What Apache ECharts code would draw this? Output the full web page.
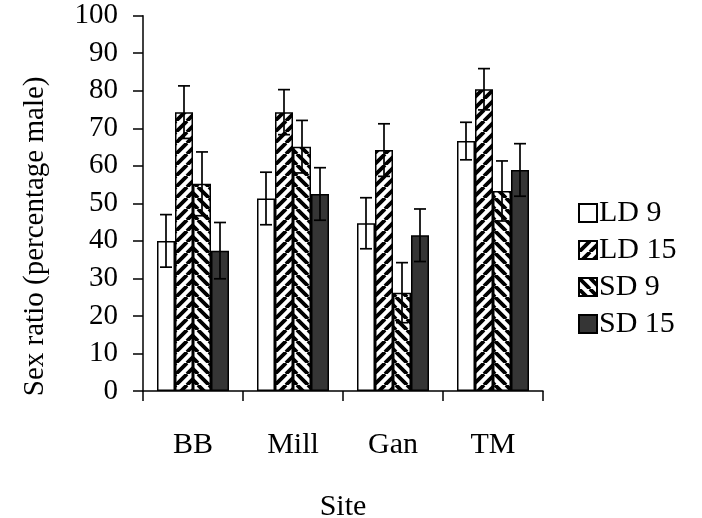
<!DOCTYPE html>
<html>
<head>
<meta charset="utf-8">
<script src="https://cdn.jsdelivr.net/npm/echarts@6/dist/echarts.min.js"></script>
<style>html,body{margin:0;padding:0;background:#fff}#c{width:702px;height:518px}</style>
</head>
<body>
<div id="c"></div>
<script>
var categories = ['BB', 'Mill', 'Gan', 'TM'];
var seriesNames = ['LD 9', 'LD 15', 'SD 9', 'SD 15'];
var ld9 = [40, 51.3, 44.7, 66.6];
var ld15 = [74.3, 74.3, 64.2, 80.4];
var sd9 = [55.2, 65.1, 26.2, 53.3];
var sd15 = [37.4, 52.5, 41.5, 58.9];
var ld9Err = [7, 7, 6.8, 5];
var ld15Err = [7, 6, 7, 5.5];
var sd9Err = [8.5, 7, 8, 8];
var sd15Err = [7.5, 7, 7, 7];
var yTicks = [0, 10, 20, 30, 40, 50, 60, 70, 80, 90, 100];

var FONT = 'Liberation Serif';

function hatch(dir) {
  var s = 11;
  var c = document.createElement('canvas');
  c.width = s; c.height = s;
  var g = c.getContext('2d');
  g.fillStyle = '#fff';
  g.fillRect(0, 0, s, s);
  g.strokeStyle = '#000';
  g.lineWidth = 3.8;
  g.beginPath();
  if (dir > 0) {
    for (var k = -1; k <= 1; k++) {
      g.moveTo(k * s, s); g.lineTo(k * s + s, 0);
    }
  } else {
    for (var k = -1; k <= 1; k++) {
      g.moveTo(k * s, 0); g.lineTo(k * s + s, s);
    }
  }
  g.stroke();
  return c;
}

var fills = [
  '#ffffff',
  { image: hatch(1), repeat: 'repeat' },
  { image: hatch(-1), repeat: 'repeat' },
  '#353535'
];
var values = [ld9, ld15, sd9, sd15];
var errs = [ld9Err, ld15Err, sd9Err, sd15Err];

var series = values.map(function (v, i) {
  return {
    name: seriesNames[i],
    type: 'bar',
    data: v,
    barWidth: '18%',
    barGap: '0%',
    itemStyle: { color: fills[i], borderColor: '#000', borderWidth: 1.5 },
    emphasis: { disabled: true },
    animation: false
  };
});

var errData = [];
values.forEach(function (v, si) {
  v.forEach(function (val, ci) {
    errData.push([ci, si, val, errs[si][ci]]);
  });
});

series.push({
  type: 'custom',
  data: errData,
  encode: { x: 0, y: 2 },
  z: 5,
  animation: false,
  silent: true,
  renderItem: function (params, api) {
    var ci = api.value(0), si = api.value(1), val = api.value(2), e = api.value(3);
    var band = api.size([1, 0])[0];
    var bw = band * 0.18;
    var x = api.coord([ci, 0])[0] + (si - 1.5) * bw;
    var yt = api.coord([ci, val + e])[1];
    var yb = api.coord([ci, val - e])[1];
    var hw = 6;
    var st = { stroke: '#000', lineWidth: 1.7 };
    return {
      type: 'group',
      children: [
        { type: 'line', shape: { x1: x, y1: yt, x2: x, y2: yb }, style: st },
        { type: 'line', shape: { x1: x - hw, y1: yt, x2: x + hw, y2: yt }, style: st },
        { type: 'line', shape: { x1: x - hw, y1: yb, x2: x + hw, y2: yb }, style: st }
      ]
    };
  }
});

var chart = echarts.init(document.getElementById('c'), null, { renderer: 'canvas' });
chart.setOption({
  animation: false,
  backgroundColor: '#fff',
  textStyle: { fontFamily: FONT, color: '#000' },
  grid: { left: 143, right: 159, top: 15.7, bottom: 127, containLabel: false, outerBoundsMode: 'none' },
  legend: {
    data: seriesNames,
    orient: 'vertical',
    left: 573,
    top: 193,
    itemWidth: 18,
    itemHeight: 18,
    itemGap: 7,
    icon: 'rect',
    textStyle: { fontFamily: FONT, fontSize: 30, color: '#000', padding: [0, 0, 0, -3] },
    selectedMode: false
  },
  xAxis: {
    type: 'category',
    data: categories,
    name: 'Site',
    nameLocation: 'middle',
    nameGap: 101,
    nameTextStyle: { fontFamily: FONT, fontSize: 30, color: '#000' },
    axisLine: { lineStyle: { color: '#000', width: 1.5 } },
    axisTick: { show: true, inside: false, length: 10, lineStyle: { color: '#000', width: 1.5 } },
    axisLabel: { fontFamily: FONT, fontSize: 30, color: '#000', margin: 39 },
    splitLine: { show: false }
  },
  yAxis: {
    type: 'value',
    min: 0,
    max: 100,
    interval: 10,
    name: 'Sex ratio (percentage male)',
    nameLocation: 'middle',
    nameGap: 93,
    nameTextStyle: { fontFamily: FONT, fontSize: 29, color: '#000', padding: [0, 66, 0, 0] },
    axisLine: { show: true, lineStyle: { color: '#000', width: 1.5 } },
    axisTick: { show: true, inside: false, length: 10, lineStyle: { color: '#000', width: 1.5 } },
    axisLabel: {
      fontFamily: FONT, fontSize: 29, color: '#000', margin: 25,
      formatter: function (v) { return yTicks.indexOf(v) >= 0 ? String(v) : ''; }
    },
    splitLine: { show: false }
  },
  series: series
});
</script>
</body>
</html>
